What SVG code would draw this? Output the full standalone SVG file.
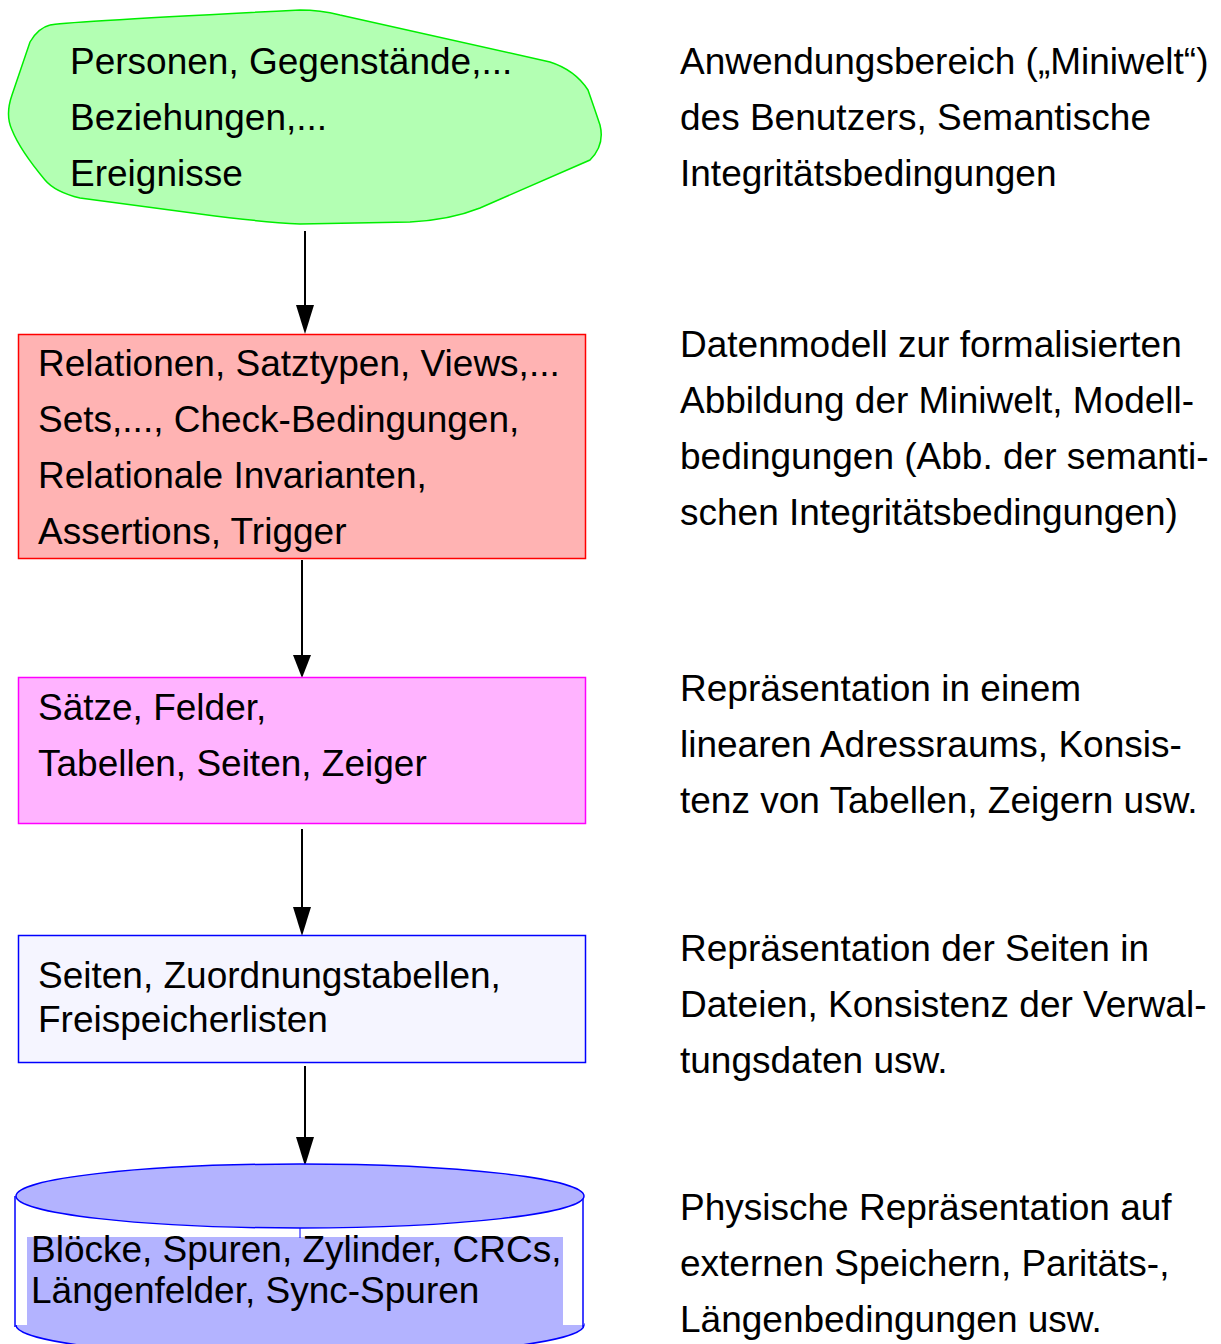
<svg xmlns="http://www.w3.org/2000/svg" width="1221" height="1344" viewBox="0 0 1221 1344">
<style>
text{font-family:"Liberation Sans",Arial,sans-serif;font-size:37px;fill:#000}
.conn{stroke:#000;stroke-width:2;fill:none}
.head{fill:#000}
</style>
<rect width="1221" height="1344" fill="#fff"/>
<g id="connectors">
<line x1="305" y1="231" x2="305" y2="308" class="conn"/>
<path d="M296,305 L314,305 L305,334 Z" class="head"/>
<line x1="302" y1="560" x2="302" y2="658" class="conn"/>
<path d="M293,655 L311,655 L302,678 Z" class="head"/>
<line x1="302" y1="829" x2="302" y2="910" class="conn"/>
<path d="M293,907 L311,907 L302,936 Z" class="head"/>
<line x1="305" y1="1066" x2="305" y2="1140" class="conn"/>
<path d="M296,1137 L314,1137 L305,1166 Z" class="head"/>
</g>
<g id="node-miniwelt">
<path d="M50,25 Q60,22 300,10 Q320,10 340,15 L550,62 Q575,70 588,90 Q595,110 600,125 Q605,145 590,160 L480,208 Q450,220 410,222 L300,224 Q260,222 200,214 L80,198 Q55,192 45,180 Q20,150 12,130 Q5,115 12,95 L30,42 Q38,28 50,25 Z" fill="#b3ffb3" stroke="#00ee00" stroke-width="1.5"/>
<text x="70" y="74">Personen, Gegenstände,...</text>
<text x="70" y="130">Beziehungen,...</text>
<text x="70" y="186">Ereignisse</text>
</g>
<g id="node-datenmodell">
<rect x="18.5" y="334.5" width="567" height="224" fill="#ffb3b3" stroke="#ff0000" stroke-width="1.5"/>
<text x="38" y="376">Relationen, Satztypen, Views,...</text>
<text x="38" y="432">Sets,..., Check-Bedingungen,</text>
<text x="38" y="488">Relationale Invarianten,</text>
<text x="38" y="544">Assertions, Trigger</text>
</g>
<g id="node-saetze">
<rect x="18.5" y="677.5" width="567" height="146" fill="#ffb3ff" stroke="#ff00ff" stroke-width="1.5"/>
<text x="38" y="720">Sätze, Felder,</text>
<text x="38" y="776">Tabellen, Seiten, Zeiger</text>
</g>
<g id="node-seiten">
<rect x="18.5" y="935.5" width="567" height="127" fill="#f5f5ff" stroke="#0000ff" stroke-width="1.5"/>
<text x="38" y="988">Seiten, Zuordnungstabellen,</text>
<text x="38" y="1032">Freispeicherlisten</text>
</g>
<g id="node-bloecke">
<ellipse cx="300" cy="1325" rx="284" ry="32" fill="#b3b3ff" stroke="#0000ff" stroke-width="1.5"/>
<rect x="15" y="1196" width="569" height="129" fill="#fff"/>
<rect x="27" y="1237" width="536" height="88" fill="#b3b3ff"/>
<line x1="15" y1="1196" x2="15" y2="1327" stroke="#0000ff" stroke-width="1.5"/>
<line x1="583" y1="1196" x2="583" y2="1327" stroke="#0000ff" stroke-width="1.5"/>
<ellipse cx="300" cy="1196" rx="284" ry="32" fill="#b3b3ff" stroke="#0000ff" stroke-width="1.5"/>
<line x1="300" y1="1228" x2="300" y2="1238" stroke="#0000ff" stroke-width="1"/>
<text x="31" y="1262">Blöcke, Spuren, Zylinder, CRCs,</text>
<text x="31" y="1303">Längenfelder, Sync-Spuren</text>
</g>
<g id="descriptions">
<text x="680" y="74">Anwendungsbereich („Miniwelt“)</text>
<text x="680" y="130">des Benutzers, Semantische</text>
<text x="680" y="186">Integritätsbedingungen</text>
<text x="680" y="357">Datenmodell zur formalisierten</text>
<text x="680" y="413">Abbildung der Miniwelt, Modell-</text>
<text x="680" y="469">bedingungen (Abb. der semanti-</text>
<text x="680" y="525">schen Integritätsbedingungen)</text>
<text x="680" y="701">Repräsentation in einem</text>
<text x="680" y="757">linearen Adressraums, Konsis-</text>
<text x="680" y="813">tenz von Tabellen, Zeigern usw.</text>
<text x="680" y="961">Repräsentation der Seiten in</text>
<text x="680" y="1017">Dateien, Konsistenz der Verwal-</text>
<text x="680" y="1073">tungsdaten usw.</text>
<text x="680" y="1220">Physische Repräsentation auf</text>
<text x="680" y="1276">externen Speichern, Paritäts-,</text>
<text x="680" y="1332">Längenbedingungen usw.</text>
</g>
</svg>
